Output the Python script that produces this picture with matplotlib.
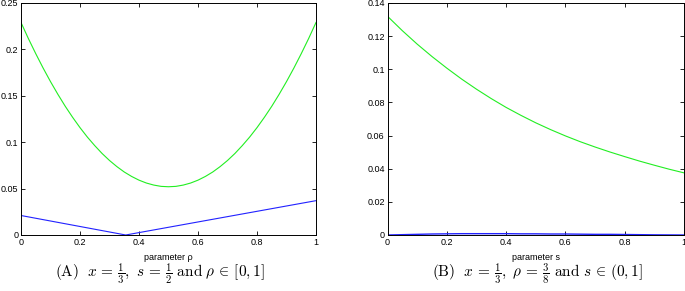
import matplotlib
matplotlib.use("Agg")
import matplotlib.pyplot as plt
from matplotlib.ticker import FormatStrFormatter

plt.rcParams['font.family'] = ['Liberation Sans', 'DejaVu Sans']
plt.rcParams['mathtext.fontset'] = 'cm'

# panel A: parameter rho, x = 1/3, s = 1/2
rho = [0.0, 0.025, 0.05, 0.075, 0.1, 0.125, 0.15, 0.175, 0.2, 0.225, 0.25,
       0.275, 0.3, 0.325, 0.35, 0.375, 0.4, 0.425, 0.45, 0.475, 0.5,
       0.525, 0.55, 0.575, 0.6, 0.625, 0.65, 0.675, 0.7, 0.725, 0.75,
       0.775, 0.8, 0.825, 0.85, 0.875, 0.9, 0.925, 0.95, 0.975, 1.0]
green_a = [0.2290, 0.2117, 0.1954, 0.1799, 0.1653, 0.1516, 0.1387, 0.1268, 0.1157, 0.1055, 0.0963,
           0.0878, 0.0803, 0.0737, 0.0679, 0.0631, 0.0591, 0.0560, 0.0538, 0.0524, 0.0520,
           0.0524, 0.0538, 0.0560, 0.0591, 0.0631, 0.0679, 0.0737, 0.0803, 0.0878, 0.0963,
           0.1055, 0.1157, 0.1268, 0.1387, 0.1516, 0.1653, 0.1799, 0.1954, 0.2117, 0.2290]
rho_b = [0.0, 0.355, 1.0]
blue_a = [0.021, 0.0, 0.037]

# panel B: parameter s, x = 1/3, rho = 3/8
s = [0.0, 0.05, 0.1, 0.15, 0.2, 0.25, 0.3, 0.35, 0.4, 0.45, 0.5,
     0.55, 0.6, 0.65, 0.7, 0.75, 0.8, 0.85, 0.9, 0.95, 1.0]
green_b = [0.132, 0.1233, 0.1152, 0.1077, 0.1007, 0.0941, 0.0880, 0.0823, 0.0770, 0.0722, 0.0677,
           0.0636, 0.0598, 0.0563, 0.0531, 0.0501, 0.0473, 0.0446, 0.0421, 0.0397, 0.0375]
blue_b = [0.0, 0.0002, 0.0004, 0.0006, 0.0007, 0.0008, 0.0008, 0.0008, 0.0008, 0.0007, 0.0007,
          0.0006, 0.0006, 0.0005, 0.0004, 0.0004, 0.0003, 0.0002, 0.0001, 0.00005, 0.0]

yticks_a = [0, 0.05, 0.1, 0.15, 0.2, 0.25]
yticks_b = [0, 0.02, 0.04, 0.06, 0.08, 0.1, 0.12, 0.14]
xticks = [0, 0.2, 0.4, 0.6, 0.8, 1]

fig = plt.figure(figsize=(6.85, 2.91), dpi=100)
ax1 = fig.add_axes([21/685, 56/291, 295/685, 232/291])
ax2 = fig.add_axes([387.5/685, 56/291, 296.5/685, 232/291])


def style(ax, yticks, ylim, xlabel):
    ax.set_xlim(0, 1)
    ax.set_ylim(*ylim)
    ax.set_xticks(xticks)
    ax.set_yticks(yticks)
    ax.xaxis.set_major_formatter(FormatStrFormatter('%g'))
    ax.yaxis.set_major_formatter(FormatStrFormatter('%g'))
    ax.tick_params(direction='in', top=True, right=True, length=3, width=0.6,
                   labelsize=6.5, pad=2)
    for sp in ax.spines.values():
        sp.set_linewidth(0.7)
    ax.set_xlabel(xlabel, fontsize=6.5, labelpad=4.5)


ax1.plot(rho, green_a, color='#22ee22', lw=0.8)
ax1.plot(rho_b, blue_a, color='#2222ff', lw=0.8)
style(ax1, yticks_a, (0, 0.25), 'parameter ρ')

ax2.plot(s, green_b, color='#22ee22', lw=0.8)
ax2.plot(s, blue_b, color='#2222ff', lw=1.0)
style(ax2, yticks_b, (0, 0.14), 'parameter s')

fig.text(160/685, 1 - 274/291,
         r'$(\mathrm{A})\ \ x\,=\,\frac{1}{3},\ s\,=\,\frac{1}{2}\ \mathrm{and}\ \rho\,\in\,[0,1]$',
         ha='center', va='center', fontsize=11)
fig.text(537/685, 1 - 274/291,
         r'$(\mathrm{B})\ \ x\,=\,\frac{1}{3},\ \rho\,=\,\frac{3}{8}\ \mathrm{and}\ s\,\in\,(0,1]$',
         ha='center', va='center', fontsize=11)

fig.savefig('out.png', dpi=100)
